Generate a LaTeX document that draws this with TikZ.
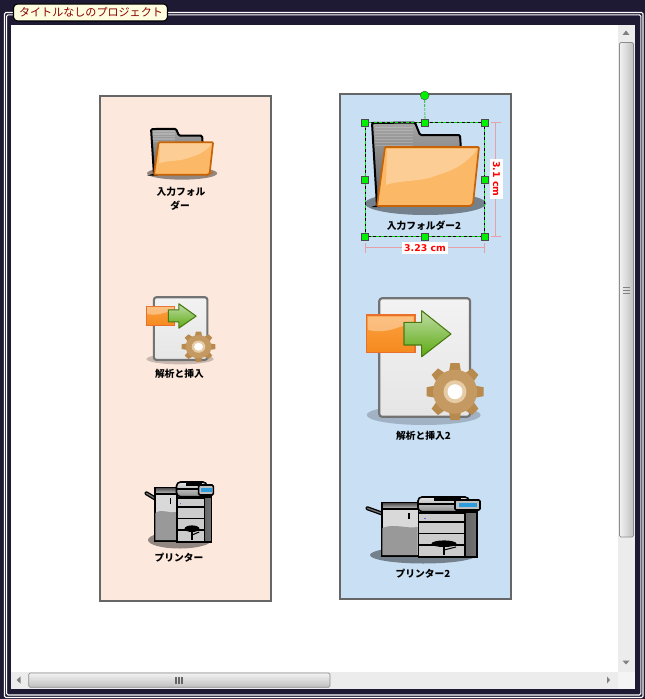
\documentclass[tikz,border=0pt]{standalone}
\usepackage{fontspec}
\setmainfont{Liberation Sans}
\newfontfamily\cjk{Noto Sans CJK JP}
\newfontfamily\dimfont{DejaVu Sans}
\usetikzlibrary{arrows.meta,positioning,shapes.geometric}
\definecolor{frameblue}{HTML}{1F1A33}
\definecolor{panelpink}{HTML}{FDE8DD}
\definecolor{panelblue}{HTML}{C9DFF4}
\definecolor{panelgray}{HTML}{666666}
\definecolor{barbg}{HTML}{ECECEC}
\definecolor{titlered}{HTML}{8B0000}
\definecolor{dimred}{HTML}{E8A0A8}
\definecolor{selgreen}{HTML}{00E000}
\definecolor{handlegreen}{HTML}{00F000}
\definecolor{folderedge}{HTML}{C86408}
\definecolor{folderfill}{HTML}{FBB968}
\definecolor{sheetedge}{HTML}{E8702A}
\definecolor{sheettop}{HTML}{FBA040}
\definecolor{sheetbottom}{HTML}{F58A1E}
\definecolor{arrowedge}{HTML}{4A7A12}
\definecolor{arrowtop}{HTML}{BFDCA6}
\definecolor{arrowbottom}{HTML}{5CAA10}
\definecolor{gearouter}{HTML}{B98A4E}
\definecolor{gearbody}{HTML}{C49A62}
\definecolor{gearring}{HTML}{E6CBA4}
\tikzset{
panel/.style = {draw = panelgray, line width = 1.5pt},
iconlabel/.style = {font = \cjk\bfseries\fontsize{7.3}{9}\selectfont, inner sep = 0pt},
handle/.style = {draw = black!70, line width = .3pt, fill = handlegreen, inner sep = 0pt, minimum size = 5.2pt},
rothandle/.style = {handle, circle, minimum size = 6.6pt},
dimline/.style = {draw = dimred, line width = .8pt, {Bar[width = 7.5pt]}-{Bar[width = 7.5pt]}},
dimlabel/.style = {fill = white, text = red, font = \dimfont\bfseries\fontsize{7}{9}\selectfont, inner xsep = 1.5pt, inner ysep = 2pt},
thumb/.style = {draw = black!45, line width = .5pt, rounded corners = 1pt},
sbarrow/.style = {fill = black!50},
foldericon/.pic = {
\fill[black, opacity = .42] (60.5,81.5) ellipse [x radius = 60.5, y radius = 11.5];
\draw[black, line width = 1.5pt, top color = black!35, bottom color = black!65, rounded corners = 1pt] (7,1) -- (50,.5) -- (55,13) -- (95,13) -- (96,28) -- (14,84) -- (12,84) -- cycle;
\foreach \stripe in {5,8,...,23} {
\draw[white, opacity = .2, line width = .5pt] (10,\stripe) -- (48,\stripe);
}
\draw[draw = folderedge, line width = 1.3pt, fill = folderfill, rounded corners = .8pt] (20,25) -- (114,25) -- (108,82) -- (105,84) -- (12,84) -- cycle;
\fill[white, opacity = .3] (22,27) -- (112,27) -- (110,30) .. controls (95,48) and (80,50) .. (70,54) .. controls (55,60) and (35,58) .. (21,63) -- cycle;
},
sheeticon/.pic = {
\fill[black, opacity = .2] (57.7,118) ellipse [x radius = 57, y radius = 10];
\draw[draw = black!55, line width = 1.6pt, top color = white!95!black, bottom color = black!10, rounded corners = 2pt] (13.3,1.3) rectangle (104,119.7);
\draw[draw = sheetedge, line width = .8pt, top color = sheettop, bottom color = sheetbottom] (.7,18) rectangle (49,55.3);
\fill[white, opacity = .35] (2,19.5) -- (47.5,19.5) -- (47.5,28) .. controls (35,26) and (25,38) .. (2,33) -- cycle;
\draw[draw = arrowedge, line width = .8pt, top color = arrowtop, bottom color = arrowbottom, line join = round] (38,25.3) -- (55.7,25.3) -- (55.7,13.7) -- (85,37) -- (55.7,59.7) -- (55.7,48) -- (38,48) -- cycle;
\begin{scope}[shift = {(89,94.7)}]
\foreach \toothangle in {0,45,...,315} {
\fill[gearouter, rotate = \toothangle] (20,-6) -- (28.5,-4.5) -- (28.5,4.5) -- (20,6) -- cycle;
}
\fill[gearbody] (0,0) circle [radius = 22];
\fill[gearring] (0,0) circle [radius = 11.5];
\fill[white] (0,0) circle [radius = 7.5];
\end{scope}
},
printericon/.pic = {
\fill[black, opacity = .42] (57.3,60) ellipse [x radius = 53.3, y radius = 8.5];
\draw[black, line width = 3pt, line cap = round] (1.5,13.3) -- (16,18.5);
\draw[black!55, line width = 1pt, line cap = round] (1.5,13.3) -- (16,18.5);
\draw[black, line width = 1.2pt, top color = black!75, bottom color = black!20] (15.7,7.3) rectangle (52.3,14);
\draw[black, line width = 1.2pt, fill = black!15] (15.7,14) rectangle (52.3,60.7);
\fill[black!40] (16.3,33) .. controls (28,28) and (40,34) .. (51.7,32) -- (51.7,60.2) -- (16.3,60.2) -- cycle;
\fill[black] (41.5,18) rectangle (43.5,24);
\draw[black, line width = 1.2pt, left color = black!60, right color = black!55] (99,16.7) rectangle (110.7,61.7);
\draw[black, line width = 1.2pt, fill = black!20] (52.3,18) rectangle (99,61.7);
\draw[black, line width = 1.2pt, top color = black!10, bottom color = black!45, rounded corners = 3pt] (52,2) rectangle (103,16.7);
\draw[black, line width = 1.2pt] (52,9) -- (89,9);
\fill[black] (68,2.2) rectangle (95,6);
\draw[black, line width = 1.2pt, rounded corners = 1pt, fill = black!25] (89,5) rectangle (114,15);
\fill[cyan!75!blue!85!white] (92.5,7.7) rectangle (111,11.7);
\fill[blue!60!white] (58,22.8) rectangle (60,24);
\draw[black, line width = 1.2pt] (52.3,26.7) -- (99,26.7);
\draw[black, line width = 1.2pt] (52.3,38.3) -- (99,38.3);
\draw[black, line width = 1.2pt] (52.3,50) -- (99,50);
\fill[black] (78,48.7) ellipse [x radius = 12.5, y radius = 3.3];
\draw[black, line width = .8pt] (78,52) -- (78,60);
\draw[black, line width = .8pt] (78,55) -- (90,52);
},
}
\begin{document}
\begin{tikzpicture}[x = .75pt, y = -.75pt]
\useasboundingbox (0,0) rectangle (645,699);
\fill[frameblue] (0,0) rectangle (645,699);
\draw[white, line width = .8pt, rounded corners = 1pt] (4.5,12.5) rectangle (643,697.5);
\draw[white, line width = .8pt, rounded corners = 1pt] (6.7,14.8) rectangle (640.8,695);
\fill[white] (11,25) rectangle (635,688.5);
\fill[barbg] (618,25) rectangle (635,672);
\fill[barbg] (11,672) rectangle (618,688.5);
\fill[barbg!60!white] (618,672) rectangle (635,688.5);
\draw[thumb, left color = black!5, right color = black!25] (619.5,42.5) rectangle (633.5,537);
\draw[thumb, top color = black!5, bottom color = black!25] (28.7,673) rectangle (330,687.3);
\foreach \gripx in {176,179,182} {
\fill[black!60] (\gripx-.7,676.5) rectangle (\gripx+.7,684);
}
\foreach \gripy in {287,290,293} {
\fill[black!50] (622.5,\gripy-.5) rectangle (630,\gripy+.5);
}
\fill[sbarrow] (626,30.5) -- (629.5,35) -- (622.5,35) -- cycle;
\fill[sbarrow] (626,664.5) -- (629.5,660.5) -- (622.5,660.5) -- cycle;
\fill[sbarrow] (16.5,680) -- (20.5,676.5) -- (20.5,683.5) -- cycle;
\fill[sbarrow] (610,680) -- (607,676.5) -- (607,683.5) -- cycle;
\draw[black, line width = .8pt, fill = yellow!12!white, rounded corners = 3pt] (13.5,4) rectangle (167.5,21);
\path (91,12.5) node[text = titlered, inner sep = 0pt, font = \cjk\fontsize{8.3}{10}\selectfont] (titlelabel) {タイトルなしのプロジェクト};
\draw[panel, fill = panelpink] (100,96) rectangle (271,601);
\draw[panel, fill = panelblue] (340,94) rectangle (511,599);
\pic[xscale = .58, yscale = .55] at (147,128.5) {foldericon};
\pic[xscale = .59, yscale = .53] at (146,296.5) {sheeticon};
\pic[xscale = .595, yscale = 1] at (145.6,480) {printericon};
\pic at (365,122) {foldericon};
\pic at (366,297) {sheeticon};
\pic at (366,495) {printericon};
\path (181,191.5) node[iconlabel] (foldertop) {入力フォル};
\path (180,205.5) node[iconlabel] (folderbottom) {ダー};
\path (179.5,374) node[iconlabel] (parselabel) {解析と挿入};
\path (179,558) node[iconlabel] (printerlabel) {プリンター};
\path (424,225.5) node[iconlabel] (folderlabeltwo) {入力フォルダー2};
\path (423.5,435.5) node[iconlabel] (parselabeltwo) {解析と挿入2};
\path (423,573.5) node[iconlabel] (printerlabeltwo) {プリンター2};
\coordinate (selnw) at (365,122.3);
\coordinate (selse) at (484.5,236.7);
\draw[selgreen, line width = .6pt] (selnw) rectangle (selse);
\draw[black, line width = .6pt, dash pattern = on 2pt off 2pt] (selnw) rectangle (selse);
\node[handle] (hnw) at (selnw) {};
\node[handle] (hn) at (425,122.3) {};
\node[handle] (hne) at (484.5,122.3) {};
\node[handle] (hw) at (365,179.5) {};
\node[handle] (he) at (484.5,179.5) {};
\node[handle] (hsw) at (365,236.7) {};
\node[handle] (hs) at (425,236.7) {};
\node[handle] (hse) at (selse) {};
\node[rothandle] (hrot) at (424.7,95.5) {};
\draw[selgreen!80!black, line width = .5pt, dash pattern = on 2pt off 1pt] (hrot) -- (hn);
\coordinate (dimxa) at (365,247.7);
\coordinate (dimxb) at (485,247.7);
\coordinate (dimya) at (495.7,122.3);
\coordinate (dimyb) at (495.7,236.7);
\draw[dimline] (dimxa) -- (dimxb);
\draw[dimline] (dimya) -- (dimyb);
\path (425,248) node[dimlabel] (dimxlabel) {3.23 cm};
\path (496.5,179) node[dimlabel, rotate = -90] (dimylabel) {3.1 cm};
\end{tikzpicture}
\end{document}
